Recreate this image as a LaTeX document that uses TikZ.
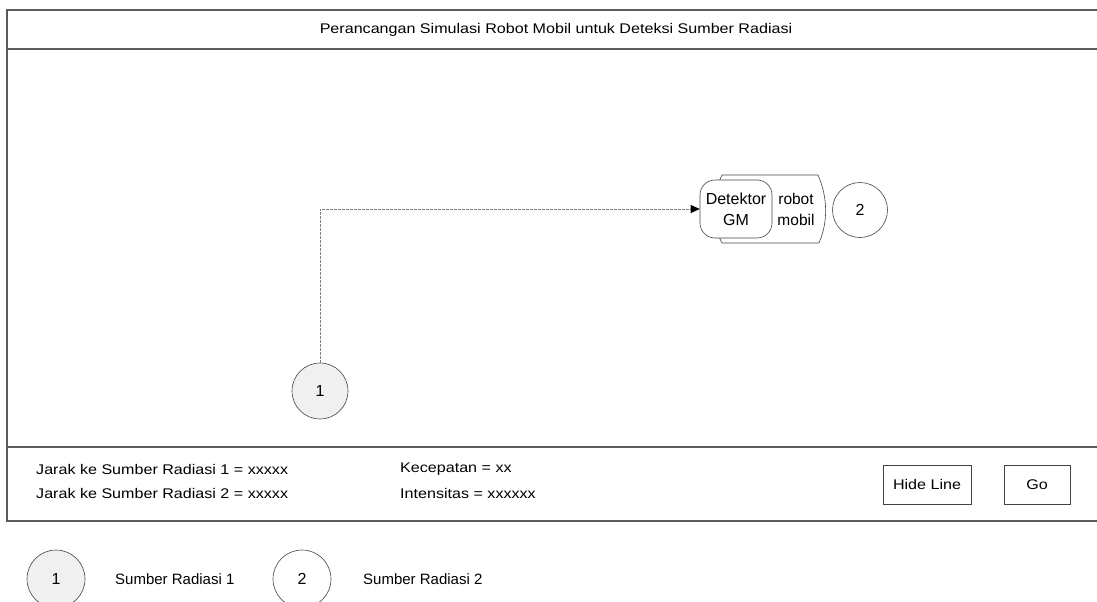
\documentclass[tikz,border=0pt]{standalone}
\usepackage{fontspec}
\setmainfont{Liberation Sans}[FakeStretch=1.15]
\newfontfamily\shapefont{Liberation Sans}
\usetikzlibrary{arrows.meta}
\definecolor{frameline}{HTML}{5A5A5A}
\definecolor{shapeline}{HTML}{444444}
\definecolor{srcfill}{HTML}{F0F0F0}
\begin{document}
\begin{tikzpicture}[x=1pt,y=-1pt,
  every node/.style={font=\fontsize{14}{16}\selectfont, text=black, inner sep=0pt},
  big/.style={font=\shapefont\fontsize{16}{21}\selectfont},
  legendtext/.style={anchor=west, font=\shapefont\fontsize{15}{17}\selectfont},
  frame/.style={draw=frameline, line width=1.2pt},
  source/.style={circle, draw=shapeline, line width=0.6pt, minimum size=#1, big},
  source/.default=56pt,
  button/.style={draw=shapeline, line width=0.6pt, minimum height=39pt},
  link/.style={draw=gray, dash pattern=on 2.5pt off 1.5pt, line width=0.6pt,
    -{Triangle[length=9pt,width=8pt,fill=black,color=black]}}
]
\useasboundingbox (0,0) rectangle (1097,602);
\fill[white] (0,0) rectangle (1097,602);

% window frame: title bar, canvas, status bar
\draw[frame] (1097,10) -- (7,10) -- (7,521) -- (1097,521);
\draw[frame] (7,49) -- (1097,49);
\draw[frame] (7,447) -- (1097,447);
\node (title) at (556,29.5) {Perancangan Simulasi Robot Mobil untuk Deteksi Sumber Radiasi};

% robot body
\draw[shapeline, line width=0.6pt] (722,175) -- (818,175)
  .. controls (828,198) and (828,222) .. (819,243) -- (722,243)
  .. controls (711,222) and (711,198) .. (722,175);
\node (robot) [align=center, font=\shapefont\fontsize{15.5}{21}\selectfont] at (796,209) {robot\\mobil};
% detector mounted on the robot
\node (det) [big, draw=shapeline, fill=white, line width=0.6pt, rounded corners=15pt,
  minimum width=72pt, minimum height=58pt, align=center] at (736,209) {Detektor\\GM};

% radiation sources
\node (s1) [source, fill=srcfill] at (320,391) {1};
\node (s2) [source=55pt] at (860,210) {2};

% path from source 1 to the detector
\draw[link] (s1.north) |- (det.west);

% status readouts
\node (d1) [anchor=west] at (36,469) {Jarak ke Sumber Radiasi 1 = xxxxx};
\node (d2) [anchor=west] at (36,493) {Jarak ke Sumber Radiasi 2 = xxxxx};
\node (v) [anchor=west] at (400,469) {Kecepatan = xx};
\node (i) [anchor=west] at (400,493) {Intensitas = xxxxxx};

% buttons
\node (hide) [button, minimum width=88pt] at (927,484.5) {Hide Line};
\node (go) [button, minimum width=66pt] at (1037,484.5) {Go};

% legend
\node (l1) [source=58pt, fill=srcfill] at (56,579) {1};
\node (t1) [legendtext] at (115,579) {Sumber Radiasi 1};
\node (l2) [source=58pt] at (302,579) {2};
\node (t2) [legendtext] at (363,579) {Sumber Radiasi 2};
\end{tikzpicture}
\end{document}
